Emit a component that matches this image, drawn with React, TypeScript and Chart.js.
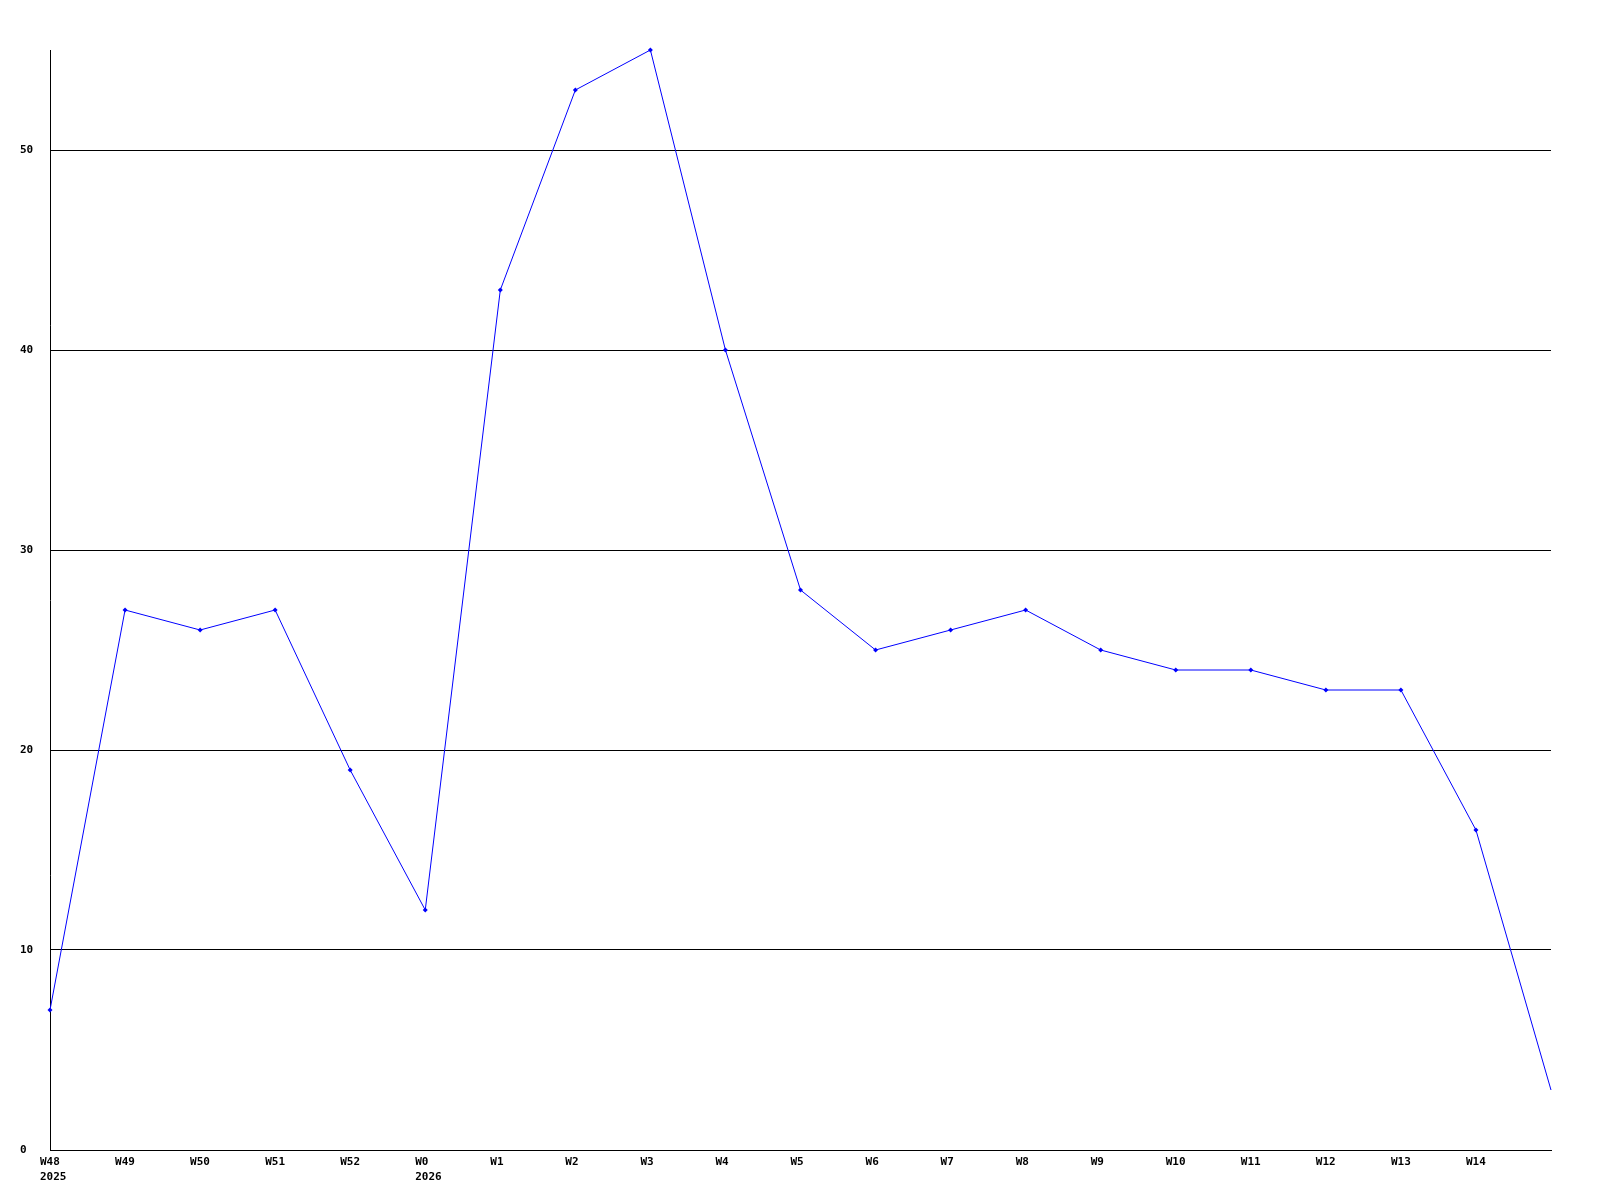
import React, { useEffect, useRef } from "react";
import { Chart, registerables } from "chart.js";

Chart.register(...registerables);

const weekLabels = ["W48", "W49", "W50", "W51", "W52", "W0", "W1", "W2", "W3", "W4", "W5", "W6", "W7", "W8", "W9", "W10", "W11", "W12", "W13", "W14", ""];
const yearLabels = ["2025", "", "", "", "", "2026", "", "", "", "", "", "", "", "", "", "", "", "", "", "", ""];
const values = [7, 27, 26, 27, 19, 12, 43, 53, 55, 40, 28, 25, 26, 27, 25, 24, 24, 23, 23, 16, 3];
const yTicks = [0, 10, 20, 30, 40, 50];
const yMax = 55;

export default function App() {
  const ref = useRef<HTMLCanvasElement | null>(null);
  useEffect(() => {
    if (!ref.current) return;
    const labels = weekLabels.map((w, i) => (yearLabels[i] ? [w, yearLabels[i]] : w));
    const font = { family: "'DejaVu Sans Mono', monospace", size: 11, weight: "bold" as const, lineHeight: "15px" };
    const lastIndex = values.length - 1;
    const chart = new Chart(ref.current, {
      type: "line",
      data: {
        labels,
        datasets: [
          {
            data: values,
            borderColor: "#0000ff",
            backgroundColor: "#0000ff",
            borderWidth: 1,
            pointStyle: "rectRot",
            pointRadius: (ctx: any) => (ctx.dataIndex === lastIndex ? 0 : 2.5),
            pointBorderWidth: 0,
            pointBackgroundColor: "#0000ff",
            tension: 0,
            clip: false,
          },
        ],
      },
      options: {
        responsive: false,
        animation: false,
        layout: { padding: { left: 20, top: 50, right: 49, bottom: 0 } },
        plugins: { legend: { display: false }, tooltip: { enabled: false } },
        scales: {
          x: {
            offset: false,
            grid: { display: false, drawTicks: false },
            border: { display: true, color: "#000", width: 1 },
            ticks: {
              autoSkip: false,
              maxRotation: 0,
              minRotation: 0,
              padding: 5,
              align: "start",
              labelOffset: -10,
              color: "#000",
              font,
            },
            afterFit: (s: any) => {
              s.height = 50;
            },
          },
          y: {
            min: 0,
            max: yMax,
            grid: { color: "#000", lineWidth: 1, drawTicks: false },
            border: { display: true, color: "#000", width: 1 },
            ticks: { crossAlign: "far", padding: 0, color: "#000", font },
            afterBuildTicks: (s: any) => {
              s.ticks = yTicks.map((v) => ({ value: v }));
            },
            afterFit: (s: any) => {
              s.width = 30;
            },
          },
        },
      },
    });
    return () => chart.destroy();
  }, []);
  return (
    <div style={{ position: "absolute", left: 0, top: 0, width: 1600, height: 1200, background: "#fff" }}>
      <canvas ref={ref} width={1600} height={1200} style={{ width: 1600, height: 1200, display: "block" }} />
    </div>
  );
}
